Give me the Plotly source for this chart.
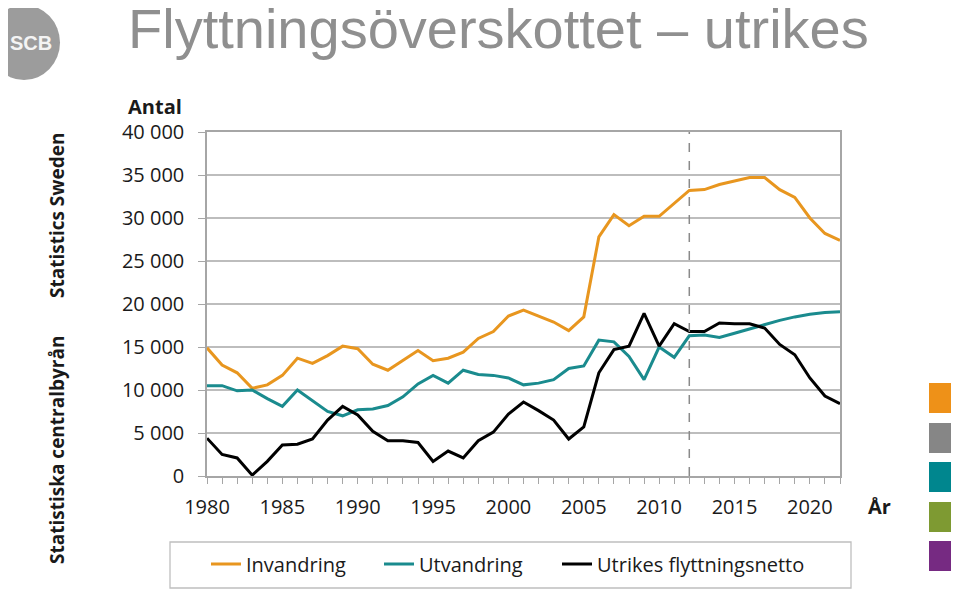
import plotly.graph_objects as go

years = list(range(1980, 2023))

invandring = [14900, 12900, 12000, 10200, 10600, 11700, 13700, 13100, 14000, 15100,
              14800, 13000, 12300, 13400, 14600, 13400, 13700, 14400, 16000, 16800,
              18600, 19300, 18600, 17900, 16900, 18500, 27800, 30400, 29100, 30200,
              30200, 31700, 33200, 33300, 33900, 34300, 34700, 34700, 33300, 32400,
              30000, 28200, 27400]

utvandring = [10500, 10500, 9900, 10000, 9000, 8100, 10000, 8700, 7500, 7000,
              7700, 7800, 8200, 9200, 10700, 11700, 10800, 12300, 11800, 11700,
              11400, 10600, 10800, 11200, 12500, 12800, 15800, 15600, 13900, 11200,
              15000, 13800, 16300, 16400, 16100, 16600, 17100, 17600, 18100, 18500,
              18800, 19000, 19100]

netto = [4400, 2500, 2100, 100, 1700, 3600, 3700, 4300, 6500, 8100,
         7100, 5200, 4100, 4100, 3900, 1700, 2900, 2100, 4100, 5100,
         7200, 8600, 7600, 6500, 4300, 5700, 12000, 14700, 15100, 18900,
         15100, 17700, 16800, 16800, 17800, 17700, 17700, 17200, 15300, 14100,
         11400, 9300, 8400]

series_names = ["Invandring", "Utvandring", "Utrikes flyttningsnetto"]
series_colors = ["#E8961F", "#1A8B8E", "#000000"]
forecast_start = 2012

title_text = "Flyttningsöverskottet – utrikes"
y_title = "Antal"
x_title = "År"
side_texts = ["Statistiska centralbyrån", "Statistics Sweden"]
logo_text = "SCB"
square_colors = ["#EE9118", "#868686", "#00868E", "#7E9A32", "#762A82"]

# The page body has an 8 px margin, so the figure is drawn 8 px in from the window edge.
OFF = 8
W, H = 959 - OFF, 591 - OFF
# plot area in window (page) pixels
PL, PR, PT, PB = 207, 840, 132, 476
L, R, T, B = PL - OFF, PR - OFF, PT - OFF, PB - OFF
PW, PH = R - L, B - T

def px(x):  # window pixel -> paper x
    return (x - PL) / PW

def py(y):  # window pixel -> paper y
    return (PB - y) / PH

legend_ids = ["legend", "legend2", "legend3"]
legend_line_starts = [212, 385, 563]

fig = go.Figure()
for name, vals, col, lid in zip(series_names, [invandring, utvandring, netto], series_colors, legend_ids):
    fig.add_trace(go.Scatter(x=years, y=vals, name=name, mode="lines", legend=lid,
                             line=dict(color=col, width=3)))

tickfont = dict(family="Open Sans", size=20, color="#1a1a1a")
legfont = dict(family="Open Sans", size=20, color="#1a1a1a")

layout_legends = {}
for lid, xs in zip(legend_ids, legend_line_starts):
    layout_legends[lid] = dict(orientation="h", x=px(xs - 6), y=py(564), xanchor="left",
                               yanchor="middle", font=legfont, bgcolor="rgba(0,0,0,0)",
                               borderwidth=0, itemwidth=30)

fig.update_layout(
    width=W, height=H,
    margin=dict(l=L, r=W - R, t=T, b=H - B, autoexpand=False),
    paper_bgcolor="white", plot_bgcolor="white",
    separators=", ",
    showlegend=True,
    xaxis=dict(range=[1980, 2022], tick0=1980, dtick=5, ticks="outside", ticklen=6,
               tickcolor="#a6a6a6", showgrid=False, showline=True, linecolor="#a6a6a6",
               linewidth=1.5, mirror=True, tickfont=tickfont, ticklabelstandoff=6,
               zeroline=False, automargin=False,
               minor=dict(dtick=1, tick0=1980, ticks="outside", ticklen=6, tickcolor="#a6a6a6",
                          showgrid=False)),
    yaxis=dict(range=[0, 40000], dtick=5000, tickformat=",d", ticks="outside", ticklen=7,
               tickcolor="#a6a6a6", showgrid=True, gridcolor="#bdbdbd", gridwidth=1.5,
               showline=True, linecolor="#a6a6a6", linewidth=1.5, mirror=True,
               tickfont=tickfont, ticklabelstandoff=10, zeroline=False, automargin=False),
    **layout_legends,
)

shapes = []
# forecast dashed line
shapes.append(dict(type="line", xref="x", yref="paper", x0=forecast_start, x1=forecast_start,
                   y0=0, y1=1, line=dict(color="#8a8a8a", width=1.5, dash="dash")))
# legend box
shapes.append(dict(type="rect", xref="paper", yref="paper", x0=px(170), x1=px(851),
                   y0=py(588), y1=py(542), line=dict(color="#bfbfbf", width=1.3),
                   fillcolor="rgba(0,0,0,0)"))
# logo circle
shapes.append(dict(type="circle", xref="paper", yref="paper", x0=px(-12), x1=px(60),
                   y0=py(80), y1=py(5), line=dict(width=0), fillcolor="#9c9c9c"))
# right colour squares
sq_tops = [383, 423, 462, 502, 541]
for top, col in zip(sq_tops, square_colors):
    shapes.append(dict(type="rect", xref="paper", yref="paper", x0=px(929), x1=px(960),
                       y0=py(top + 30), y1=py(top), line=dict(width=0), fillcolor=col))
fig.update_layout(shapes=shapes)

ann = []
ann.append(dict(text=title_text, xref="paper", yref="paper", x=px(126), y=py(29),
                xanchor="left", yanchor="middle", showarrow=False,
                font=dict(family="Liberation Sans", size=56, color="#8f8f8f")))
ann.append(dict(text="<b>" + y_title + "</b>", xref="paper", yref="paper", x=px(155), y=py(106),
                xanchor="center", yanchor="middle", showarrow=False,
                font=dict(family="Open Sans", size=20, color="#1a1a1a")))
ann.append(dict(text="<b>" + x_title + "</b>", xref="paper", yref="paper", x=px(879), y=py(506),
                xanchor="center", yanchor="middle", showarrow=False,
                font=dict(family="Open Sans", size=20, color="#1a1a1a")))
ann.append(dict(text="<b>" + side_texts[0] + "</b>", xref="paper", yref="paper", x=px(57), y=py(450),
                xanchor="center", yanchor="middle", textangle=-90, showarrow=False,
                font=dict(family="Open Sans", size=19, color="#1a1a1a")))
ann.append(dict(text="<b>" + side_texts[1] + "</b>", xref="paper", yref="paper", x=px(57), y=py(215),
                xanchor="center", yanchor="middle", textangle=-90, showarrow=False,
                font=dict(family="Open Sans", size=19, color="#1a1a1a")))
ann.append(dict(text="<b>" + logo_text + "</b>", xref="paper", yref="paper", x=px(31), y=py(43),
                xanchor="center", yanchor="middle", showarrow=False,
                font=dict(family="Liberation Sans Narrow, Liberation Sans", size=20, color="#f4f4f4")))
fig.update_layout(annotations=ann)

fig.write_html("out.html")
